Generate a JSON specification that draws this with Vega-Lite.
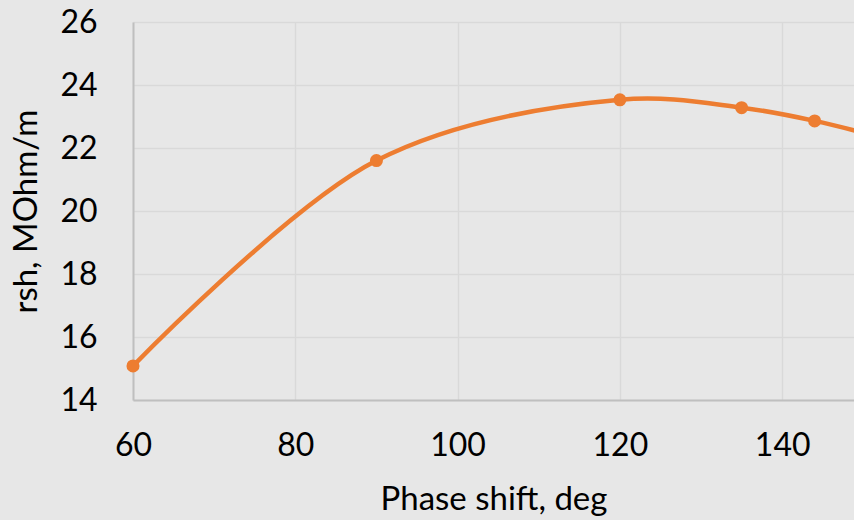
{
  "$schema": "https://vega.github.io/schema/vega-lite/v6.json",
  "width": 721,
  "height": 378,
  "autosize": {"type": "none"},
  "padding": {"left": 133, "top": 22, "right": 0, "bottom": 120},
  "background": "#e7e7e7",
  "config": {
    "view": {"stroke": null},
    "font": "Lato",
    "axis": {
      "labelFont": "Lato",
      "titleFont": "Lato",
      "labelFontSize": 32,
      "titleFontSize": 33,
      "labelColor": "#000000",
      "titleColor": "#000000",
      "labelFontWeight": "normal",
      "titleFontWeight": "normal",
      "gridColor": "#d9d9d9",
      "gridWidth": 1.5,
      "domainColor": "#bfbfbf",
      "domainWidth": 2,
      "ticks": false
    }
  },
  "data": {
    "values": [
      {"phase": 60, "rsh": 15.08},
      {"phase": 90, "rsh": 21.6},
      {"phase": 120, "rsh": 23.53},
      {"phase": 135, "rsh": 23.28},
      {"phase": 144, "rsh": 22.86},
      {"phase": 160, "rsh": 21.8}
    ]
  },
  "encoding": {
    "x": {
      "field": "phase",
      "type": "quantitative",
      "scale": {"domain": [60, 148.85], "nice": false, "zero": false},
      "axis": {"values": [60, 80, 100, 120, 140], "title": "Phase shift, deg", "labelPadding": 30, "titlePadding": 22, "labelFlush": false}
    },
    "y": {
      "field": "rsh",
      "type": "quantitative",
      "scale": {"domain": [14, 26], "nice": false, "zero": false},
      "axis": {"values": [14, 16, 18, 20, 22, 24, 26], "title": "rsh, MOhm/m", "labelPadding": 36, "titlePadding": 16}
    }
  },
  "layer": [
    {
      "mark": {"type": "line", "interpolate": "catmull-rom", "color": "#ed7d31", "strokeWidth": 4.5, "clip": true}
    },
    {
      "mark": {"type": "circle", "color": "#ed7d31", "opacity": 1, "size": 170}
    }
  ]
}
